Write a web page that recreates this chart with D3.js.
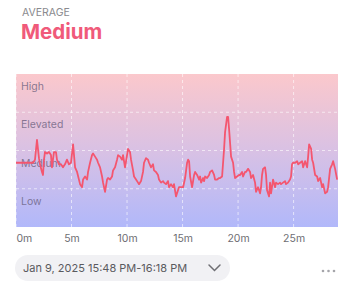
<!DOCTYPE html>
<html>
<head>
<meta charset="utf-8">
<script src="https://cdn.jsdelivr.net/npm/d3@7"></script>
<style>
  body { margin: 0; background: #fff; font-family: Inter, "Noto Sans", sans-serif; }
</style>
</head>
<body>
<div id="chart"></div>
<script>
// stress levels, each one covers a quarter of the 0-100 score
const levels = ["Low", "Medium", "Elevated", "High"];
const levelBreaks = [0, 25, 50, 75, 100];
const tickMinutes = [0, 5, 10, 15, 20, 25];
const tickLabels = ["0m", "5m", "10m", "15m", "20m", "25m"];

// minutes since start, stress score
const minutes = [0, 1.53, 1.71, 1.89, 2.07, 2.16, 2.34, 2.43, 2.52, 2.61, 2.79, 2.97, 3.15, 3.24, 3.33, 3.42, 3.6, 3.69, 3.87, 4.05,
  4.23, 4.41, 4.59, 4.77, 4.95, 5.14, 5.32, 5.5, 5.77, 5.95, 6.04, 6.22, 6.4, 6.49, 6.67, 6.85, 6.94, 7.12, 7.3, 7.39,
  7.57, 7.75, 7.84, 8.02, 8.2, 8.29, 8.47, 8.65, 8.74, 8.92, 9.1, 9.19, 9.37, 9.55, 9.64, 9.82, 10.0, 10.09, 10.27, 10.36,
  10.54, 10.63, 10.81, 10.99, 11.08, 11.26, 11.44, 11.53, 11.71, 11.89, 11.98, 12.16, 12.34, 12.43, 12.61, 12.79, 12.88, 13.06, 13.24, 13.33,
  13.51, 13.69, 13.78, 13.96, 14.14, 14.23, 14.41, 14.59, 14.68, 14.86, 15.05, 15.23, 15.41, 15.5, 15.59, 15.68, 15.86, 16.04, 16.13, 16.31,
  16.49, 16.58, 16.67, 16.85, 16.94, 17.03, 17.21, 17.39, 17.48, 17.66, 17.84, 17.93, 18.11, 18.29, 18.38, 18.56, 18.65, 18.74, 18.83, 19.01,
  19.1, 19.19, 19.28, 19.37, 19.55, 19.64, 19.73, 19.91, 20.09, 20.18, 20.36, 20.45, 20.63, 20.72, 20.9, 21.08, 21.17, 21.35, 21.53, 21.62,
  21.8, 21.98, 22.07, 22.16, 22.25, 22.43, 22.52, 22.61, 22.79, 22.88, 22.97, 23.15, 23.33, 23.42, 23.6, 23.78, 23.87, 24.05, 24.23, 24.32,
  24.5, 24.68, 24.77, 24.86, 24.95, 25.14, 25.32, 25.41, 25.59, 25.77, 25.86, 26.04, 26.22, 26.31, 26.4, 26.58, 26.67, 26.76, 26.94, 27.12,
  27.21, 27.39, 27.57, 27.66, 27.84, 28.02, 28.11, 28.29, 28.47, 28.56, 28.74, 28.92];
const stress = [42, 42, 44, 57, 45, 41, 36, 34, 44, 49, 48, 49, 47, 39, 44, 49, 49, 44, 41, 41,
  39, 41, 44, 41, 42, 54, 39, 36, 28, 26, 31, 33, 31, 36, 42, 47, 48, 46, 44, 42,
  39, 33, 29, 23, 31, 32, 31, 33, 37, 39, 44, 47, 46, 44, 47, 39, 47, 51, 49, 44,
  37, 33, 31, 29, 28, 30, 36, 42, 45, 44, 42, 39, 41, 37, 36, 34, 31, 29, 30, 29,
  28, 30, 26, 28, 26, 28, 20, 24, 26, 26, 26, 32, 42, 44, 43, 33, 26, 34, 36, 34,
  31, 33, 29, 32, 30, 33, 32, 34, 36, 37, 34, 31, 31, 32, 32, 33, 42, 51, 62, 72,
  72, 64, 55, 46, 42, 36, 32, 33, 34, 34, 36, 33, 36, 36, 38, 36, 32, 34, 29, 23,
  26, 22, 26, 34, 38, 39, 34, 24, 20, 29, 22, 31, 26, 29, 28, 29, 28, 29, 30, 28,
  29, 31, 33, 41, 42, 42, 43, 41, 42, 43, 39, 43, 39, 46, 54, 51, 44, 42, 34, 33,
  30, 32, 26, 28, 22, 23, 26, 38, 41, 43, 38, 31];

const width = 354, height = 284;
const margin = { top: 74, right: 16, bottom: 57, left: 16 };
const accent = "#f05a7a";

const svg = d3.select("#chart").append("svg")
  .attr("width", width)
  .attr("height", height);

const x = d3.scaleLinear()
  .domain([0, 29])
  .range([margin.left, width - margin.right]);

const y = d3.scaleLinear()
  .domain([0, 100])
  .range([height - margin.bottom, margin.top]);

// heading
svg.append("text")
  .attr("x", 22).attr("y", 16)
  .attr("font-size", 10.5)
  .attr("fill", "#8a8a8e")
  .text("AVERAGE");

svg.append("text")
  .attr("x", 21).attr("y", 39)
  .attr("font-size", 20.5)
  .attr("font-weight", 700)
  .attr("fill", accent)
  .text("Medium");

// background gradient pink -> periwinkle
const grad = svg.append("defs").append("linearGradient")
  .attr("id", "bg")
  .attr("x1", 0).attr("x2", 0).attr("y1", 0).attr("y2", 1);
grad.append("stop").attr("offset", "0%").attr("stop-color", "#fbc8cc");
grad.append("stop").attr("offset", "50%").attr("stop-color", "#d9c1e4");
grad.append("stop").attr("offset", "100%").attr("stop-color", "#b1b8fa");

svg.append("rect")
  .attr("x", x(0))
  .attr("y", y(100))
  .attr("width", x(29) - x(0))
  .attr("height", y(0) - y(100))
  .attr("fill", "url(#bg)");

// grid
const gridColor = "rgba(255,255,255,0.6)";
svg.append("g")
  .selectAll("line")
  .data(levelBreaks.slice(1, -1))
  .join("line")
  .attr("x1", x(0)).attr("x2", x(29))
  .attr("y1", d => y(d)).attr("y2", d => y(d))
  .attr("stroke", gridColor)
  .attr("stroke-dasharray", "3,3");

svg.append("g")
  .selectAll("line")
  .data(tickMinutes)
  .join("line")
  .attr("x1", d => x(d)).attr("x2", d => x(d))
  .attr("y1", y(100)).attr("y2", y(0))
  .attr("stroke", gridColor)
  .attr("stroke-dasharray", "3,3");

// level labels
svg.append("g")
  .selectAll("text")
  .data(levels)
  .join("text")
  .attr("x", x(0) + 5)
  .attr("y", (d, i) => y(levelBreaks[i + 1]) + 16)
  .attr("font-size", 10.5)
  .attr("fill", "rgba(100,90,120,0.75)")
  .text(d => d);

// x axis
const xAxis = d3.axisBottom(x)
  .tickValues(tickMinutes)
  .tickFormat((d, i) => tickLabels[i])
  .tickSize(0)
  .tickPadding(8);

const gx = svg.append("g")
  .attr("transform", `translate(0,${y(0)})`)
  .call(xAxis);
gx.select(".domain").remove();
gx.selectAll("text")
  .attr("font-family", "Inter, sans-serif")
  .attr("font-size", 10.5)
  .attr("fill", "#6e6e73")
  .attr("text-anchor", (d, i) => i === 0 ? "start" : "middle");

// line
const points = minutes.map((m, i) => [m, stress[i]]);
svg.append("path")
  .datum(points)
  .attr("fill", "none")
  .attr("stroke", "#f4566f")
  .attr("stroke-width", 1.8)
  .attr("stroke-linejoin", "round")
  .attr("d", d3.line().x(d => x(d[0])).y(d => y(d[1])));

// date range pill
const pill = svg.append("g");
pill.append("rect")
  .attr("x", 15).attr("y", 255)
  .attr("width", 215).attr("height", 26)
  .attr("rx", 13)
  .attr("fill", "#f1f1f4");
pill.append("text")
  .attr("x", 23).attr("y", 272)
  .attr("font-size", 11)
  .attr("fill", "#5a5a5e")
  .text("Jan 9, 2025 15:48 PM-16:18 PM");
pill.append("path")
  .attr("d", "M209,265 L214.5,270.5 L220,265")
  .attr("fill", "none")
  .attr("stroke", "#6e6e73")
  .attr("stroke-width", 1.5)
  .attr("stroke-linecap", "round");

// more button
svg.append("g")
  .selectAll("circle")
  .data([0, 1, 2])
  .join("circle")
  .attr("cx", d => 323 + d * 5.5)
  .attr("cy", 271)
  .attr("r", 1.3)
  .attr("fill", "#a5a5aa");
</script>
</body>
</html>
